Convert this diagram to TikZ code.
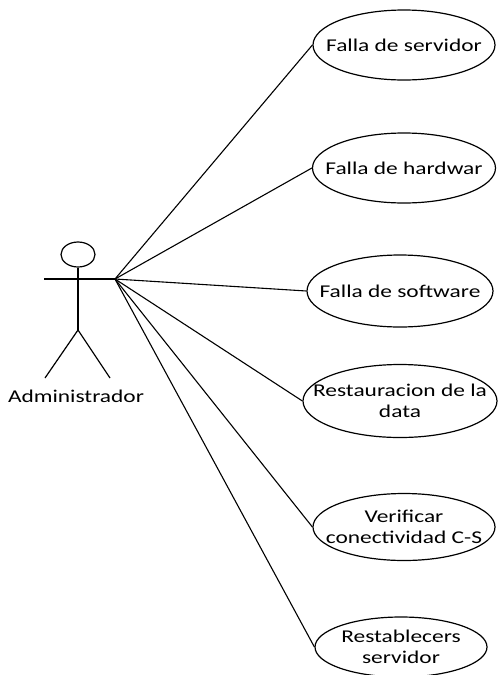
\documentclass[tikz,border=0pt]{standalone}
\usepackage{fontspec}
\setmainfont{Carlito}[FakeStretch=1.3]
\usetikzlibrary{shapes.geometric}
\begin{document}
\begin{tikzpicture}[x=1pt,y=-1pt,
  usecase/.style={ellipse,draw,line width=1.2pt,inner sep=0pt},
  uclabel/.style={font=\fontsize{18}{21}\selectfont,align=center,inner sep=0pt},
  stick/.style={line width=1.2pt},
  assoc/.style={line width=1.1pt}]
\useasboundingbox (0,0) rectangle (498,675);

% actor
\node[ellipse,draw,line width=1.2pt,minimum width=34pt,minimum height=25pt,inner sep=0pt] (head) at (78,254.5) {};
\coordinate (hip) at (78,330);
\coordinate (lhand) at (44,279);
\coordinate (hand) at (115,279);
\coordinate (lfoot) at (45,378);
\coordinate (rfoot) at (110,378);
\draw[stick] (head.south) -- (hip);
\draw[stick] (lhand) -- (hand);
\draw[stick] (lfoot) -- (hip) -- (rfoot);
\node[uclabel] (actor) at (76,396) {Administrador};

% use cases
\node[usecase,minimum width=182pt,minimum height=70pt,label={[uclabel]center:Falla de servidor}] (s1) at (404,45) {};
\node[usecase,minimum width=183pt,minimum height=70pt,label={[uclabel]center:Falla de hardwar}] (s2) at (404,168) {};
\node[usecase,minimum width=186pt,minimum height=72pt,label={[uclabel]center:Falla de software}] (s3) at (400,291) {};
\node[usecase,minimum width=194pt,minimum height=73pt,label={[uclabel]center:Restauracion de la\\data}] (s4) at (400,401) {};
\node[usecase,minimum width=182pt,minimum height=67pt,label={[uclabel]center:Verificar\\conectividad C-S}] (s5) at (404,527) {};
\node[usecase,minimum width=172pt,minimum height=60pt,label={[uclabel]center:Restablecers\\servidor}] (s6) at (401,647) {};

% associations
\foreach \u in {s1,s2,s3,s4,s5,s6}
  \draw[assoc] (hand) -- (\u.west);
\end{tikzpicture}
\end{document}
